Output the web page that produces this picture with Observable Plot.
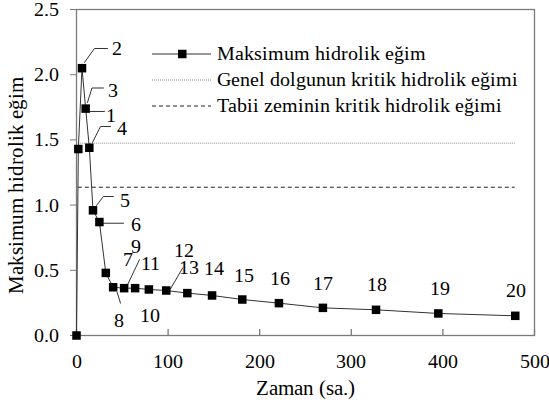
<!DOCTYPE html>
<html><head><meta charset="utf-8">
<script src="https://cdn.jsdelivr.net/npm/d3@7"></script>
<script src="https://cdn.jsdelivr.net/npm/@observablehq/plot@0.6"></script>
<style>
@font-face { font-family: "ChartSerif"; src: local("Liberation Serif"), local("LiberationSerif"), local("Times New Roman"); }
body{margin:0;background:#fff;}
#wrap{position:relative;width:549px;height:405px;font-family:ChartSerif,'Times New Roman','Liberation Serif',serif;}
#legend{position:absolute;left:0;top:0;pointer-events:none;}
svg text{font-family:ChartSerif,'Times New Roman','Liberation Serif',serif !important;}
</style></head><body>
<div id="wrap">
<svg id="legend" width="549" height="405" xmlns="http://www.w3.org/2000/svg" font-family="Times New Roman" font-size="20">
<line x1="152" x2="211" y1="54" y2="54" stroke="#333" stroke-width="1"/>
<rect x="178" y="49.75" width="8.5" height="8.5" fill="#000"/>
<text id="leg1" x="217" y="54" dy="0.32em" fill="#000"></text>
<line x1="152" x2="211" y1="80" y2="80" stroke="#8a8a8a" stroke-width="1" stroke-dasharray="1,1"/>
<text id="leg2" x="217" y="80" dy="0.32em" fill="#000"></text>
<line x1="152" x2="211" y1="106" y2="106" stroke="#222" stroke-width="1" stroke-dasharray="4,3"/>
<text id="leg3" x="217" y="106" dy="0.32em" fill="#000"></text>
</svg>
</div>
<script>
// Data
const times  = [0, 2, 6, 10, 14, 18, 25, 32, 40, 52, 64, 79, 98, 121, 148, 181, 221, 269, 327, 395, 479];
const values = [0, 1.43, 2.05, 1.74, 1.44, 0.96, 0.87, 0.48, 0.37, 0.363, 0.363, 0.353, 0.345, 0.325, 0.307, 0.276, 0.248, 0.212, 0.197, 0.169, 0.151];

const labelText = ["1","2","3","4","5","6","7","8","9","10","11","12","13","14","15","16","17","18","19","20"];
const labelX = [38.2, 44.7, 40.3, 49.6, 53.4, 65.5, 56.4, 46.9, 65.5, 80.7, 80.7, 117.9, 122.6, 149.8, 182.6, 221.9, 269.6, 328.2, 396.6, 479.5];
const labelY = [1.687, 2.201, 1.879, 1.587, 1.035, 0.851, 0.583, 0.115, 0.683, 0.153, 0.552, 0.652, 0.519, 0.511, 0.460, 0.435, 0.401, 0.389, 0.358, 0.345];

const leaderId = [1,1, 2,2,2, 3,3,3, 4,4,4, 5,5,5, 6,6, 9,9, 8,8, 12,12];
const leaderX  = [15.2,30.5, 8.7,19.6,33.8, 12.0,16.9,29.4, 17.4,26.2,37.1, 21.8,29.4,40.3, 29.4,51.3, 55.3,68.7, 44.4,48.0, 102.6,116.0];
const leaderY  = [1.718,1.718, 2.094,2.201,2.201, 1.787,1.898,1.898, 1.480,1.603,1.603, 0.997,1.066,1.066, 0.861,0.861, 0.383,0.581, 0.332,0.248, 0.358,0.519];

const genelKritik = 1.475;   // Genel dolgunun kritik hidrolik eğimi
const tabiiKritik = 1.137;   // Tabii zeminin kritik hidrolik eğimi
const kritikStart = 2;
const kritikEnd = 479;

const xTicks = [0, 100, 200, 300, 400, 500];
const yTicks = [0, 0.5, 1.0, 1.5, 2.0, 2.5];

const seriesName = "Maksimum hidrolik eğim";
const genelName = "Genel dolgunun kritik hidrolik eğimi";
const tabiiName = "Tabii zeminin kritik hidrolik eğimi";
const xTitle = "Zaman (sa.)";
const yTitle = "Maksimum hidrolik eğim";

document.getElementById("leg1").textContent = seriesName;
document.getElementById("leg2").textContent = genelName;
document.getElementById("leg3").textContent = tabiiName;

// Build tables
const points = times.map((t, i) => ({t, v: values[i]}));
const labels = labelText.map((s, i) => ({s, x: labelX[i], y: labelY[i]}));
const leaders = leaderId.map((id, i) => ({id, x: leaderX[i], y: leaderY[i]}));
const rules = [
  {y: genelKritik, x1: kritikStart, x2: kritikEnd, kind: "genel"},
  {y: tabiiKritik, x1: kritikStart, x2: kritikEnd, kind: "tabii"}
];

const FF = "Times New Roman";
const axisColor = "#7a7a7a";
const chart = Plot.plot({
  width: 549,
  height: 405,
  marginLeft: 76,
  marginRight: 15,
  marginTop: 9,
  marginBottom: 70,
  style: {fontFamily: FF, fontSize: "20px", color: "#000", background: "#fff"},
  x: {domain: [0, 500]},
  y: {domain: [0, 2.5]},
  marks: [
    Plot.frame({stroke: axisColor, strokeWidth: 1.3}),
    Plot.axisY(yTicks, {tickSize: 6, tickPadding: 12, tickFormat: d3.format(".1f"), stroke: axisColor, fill: "#000", fontSize: 20, fontFamily: FF, label: null}),
    Plot.axisX(xTicks, {tickSize: 0, tickPadding: 18.5, tickFormat: d3.format("d"), fill: "#000", fontSize: 20, fontFamily: FF, label: null}),
    Plot.tickX(xTicks, {x: d => d, insetTop: 320, stroke: axisColor, strokeWidth: 1.3}),
    Plot.ruleY(rules.filter(d => d.kind === "genel"), {y: "y", x1: "x1", x2: "x2", stroke: "#8a8a8a", strokeWidth: 1, strokeDasharray: "1,1"}),
    Plot.ruleY(rules.filter(d => d.kind === "tabii"), {y: "y", x1: "x1", x2: "x2", stroke: "#222", strokeWidth: 1, strokeDasharray: "4,3"}),
    Plot.line(leaders, {x: "x", y: "y", z: "id", stroke: "#333", strokeWidth: 1}),
    Plot.line(points, {x: "t", y: "v", stroke: "#333", strokeWidth: 1}),
    Plot.dot(points, {x: "t", y: "v", symbol: "square", r: 4.8, fill: "#000", stroke: "none"}),
    Plot.text(labels, {x: "x", y: "y", text: "s", fontSize: 20, fontFamily: FF, fill: "#000", textAnchor: "middle", lineAnchor: "middle"}),
    Plot.text([xTitle], {frameAnchor: "bottom", dy: 53, fontSize: 21, fontFamily: FF, fill: "#000", textAnchor: "middle", lineAnchor: "middle"}),
    Plot.text([yTitle], {frameAnchor: "left", rotate: -90, dx: -60, dy: 12.5, fontSize: 21, fontFamily: FF, fill: "#000", textAnchor: "middle", lineAnchor: "middle"})
  ]
});
chart.setAttribute("font-family", FF);
chart.querySelectorAll("text").forEach(el => {
  el.setAttribute("font-family", FF);
  el.style.setProperty("font-family", "ChartSerif, 'Times New Roman', 'Liberation Serif', serif", "important");
});

const wrap = document.getElementById("wrap");
wrap.insertBefore(chart, wrap.firstChild);
</script>
</body></html>
